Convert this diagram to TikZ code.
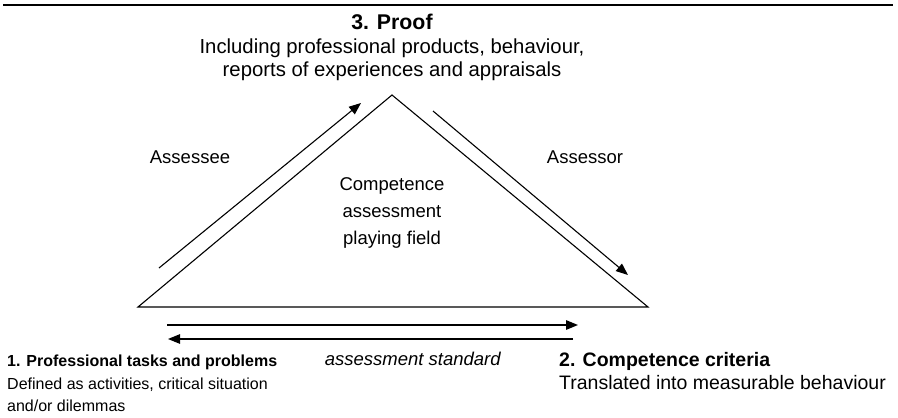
\documentclass[tikz,border=0pt]{standalone}
\usepackage{fontspec}
\setmainfont{Liberation Sans}
\usetikzlibrary{arrows.meta}

\begin{document}
\begin{tikzpicture}[
    x=1pt, y=-1pt,
    field/.style   = {line width=1.1pt, line join=miter},
    arrow/.style   = {-{Triangle[length=12pt,width=9.5pt]}, line width=1.1pt},
    txt/.style     = {inner sep=0pt, align=center, font=\fontsize{18.5}{25}\selectfont},
    corner/.style  = {inner sep=0pt, align=left},
    line cap=butt
]
\useasboundingbox (0,0) rectangle (898,418);

% Rule across the top
\coordinate (ruleL) at (3,5);
\coordinate (ruleR) at (893,5);
\draw[line width=1.8pt] (ruleL) -- (ruleR);

% The playing field
\coordinate (top)   at (392,95);
\coordinate (baseL) at (138,307);
\coordinate (baseR) at (648,307);
\draw[field] (baseL) -- (top) -- (baseR) -- cycle;

% Arrows along the sides
\coordinate (eeFrom) at (159,268);
\coordinate (eeTo)   at (361,103);
\coordinate (orFrom) at (433,111);
\coordinate (orTo)   at (628,275);
\draw[arrow] (eeFrom) -- (eeTo);
\draw[arrow] (orFrom) -- (orTo);

% Arrows under the base
\coordinate (stdA) at (167,325);
\coordinate (stdB) at (578,325);
\coordinate (stdC) at (573,339);
\coordinate (stdD) at (168,339);
\draw[arrow, line width=1.4pt] (stdA) -- (stdB);
\draw[arrow] (stdC) -- (stdD);

% Labels
\node[txt, anchor=north, font=\fontsize{20.3}{23.5}\selectfont] (proof) at (392,14) {
    {\fontsize{21.3}{23.5}\selectfont\textbf{3. Proof}}\\
    Including professional products, behaviour,\\
    reports of experiences and appraisals
};
\node[txt] (assessee) at (190,157) {Assessee};
\node[txt] (assessor) at (585,157) {Assessor};
\node[txt, font=\fontsize{18.5}{27}\selectfont] (playfield) at (392,213) {
    Competence\\
    assessment\\
    playing field
};
\node[txt, anchor=base] (standard) at (413,365) {\textit{assessment standard}};

% Corners of the base
\node[corner, anchor=north west, font=\fontsize{16}{22.5}\selectfont] (tasks) at (7,355) {
    \textbf{1. Professional tasks and problems}\\
    Defined as activities, critical situation\\
    and/or dilemmas
};
\node[corner, anchor=north west, font=\fontsize{19.5}{23.5}\selectfont] (criteria) at (559,352) {
    \textbf{2. Competence criteria}\\
    Translated into measurable behaviour
};

\end{tikzpicture}
\end{document}
